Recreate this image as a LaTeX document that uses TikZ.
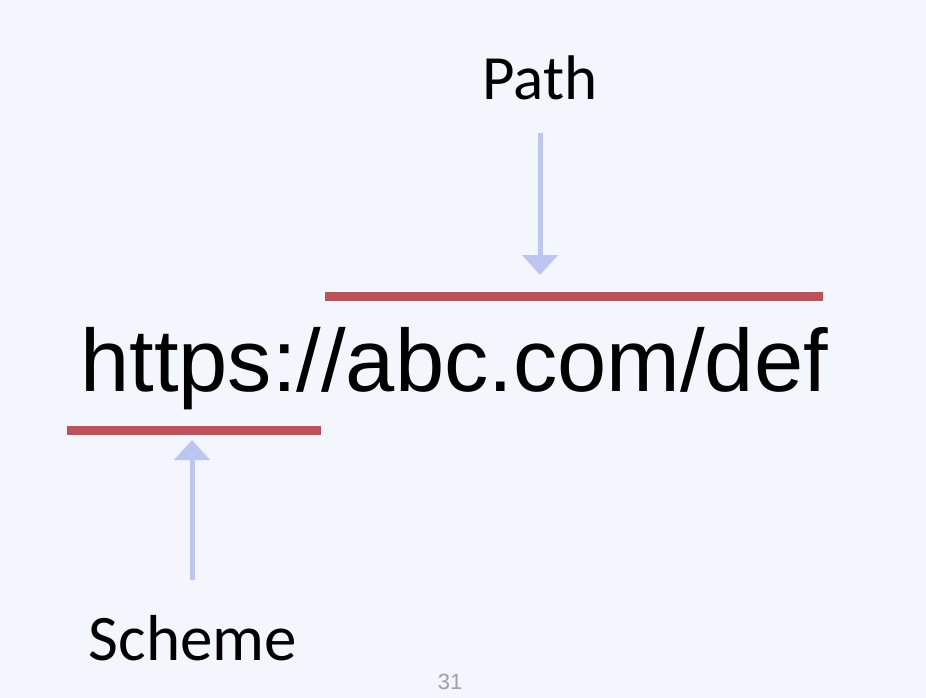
\documentclass[tikz,border=0pt]{standalone}
\usepackage{fontspec}
\setmainfont{Liberation Sans}
\newfontfamily\calib{Carlito}
\usetikzlibrary{arrows.meta}
\definecolor{bgc}{RGB}{243,246,253}
\definecolor{redline}{RGB}{192,80,90}
\definecolor{arrowc}{RGB}{188,198,240}
\definecolor{pagenum}{RGB}{160,160,165}
\tikzset{
  lbl/.style={font=\calib\fontsize{63}{70}\selectfont, text=black, inner sep=0pt, anchor=base},
  url/.style={font=\fontsize{88.5}{96}\selectfont, text=black, inner sep=0pt, anchor=base west},
  underl/.style={draw=redline, line width=9pt},
  pointer/.style={draw=arrowc, line width=5pt, -{Triangle[width=35pt,length=20pt]}},
}
\begin{document}
\begin{tikzpicture}[x=1pt,y=-1pt]
\fill[bgc] (0,0) rectangle (926,698);
\useasboundingbox (0,0) rectangle (926,698);
\node[url] (u) at (80,391) {https://abc.com/def};
\node[lbl] (p) at (540,100) {Path};
\node[lbl, font=\calib\fontsize{65}{70}\selectfont] (s) at (193,660) {Scheme};
\coordinate (pt) at (540,133);
\coordinate (ph) at (540,275);
\coordinate (st) at (192,580);
\coordinate (sh) at (192,440);
\coordinate (r1a) at (325,296);
\coordinate (r1b) at (823,296);
\coordinate (r2a) at (67,430);
\coordinate (r2b) at (321,430);
\draw[underl] (r1a) -- (r1b);
\draw[underl] (r2a) -- (r2b);
\draw[pointer] (pt) -- (ph);
\draw[pointer] (st) -- (sh);
\node[font=\fontsize{22}{24}\selectfont, text=pagenum, inner sep=0pt, anchor=base] (n) at (450,689) {31};
\end{tikzpicture}
\end{document}
